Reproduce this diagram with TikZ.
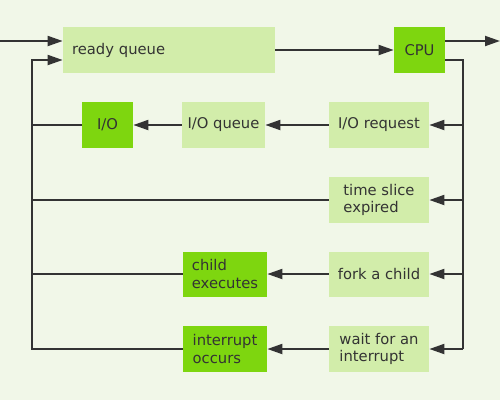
\documentclass[tikz,border=0pt]{standalone}
\usepackage{fontspec}
\setmainfont{DejaVu Sans}
\usetikzlibrary{arrows.meta}
\definecolor{bg}{HTML}{F1F7E8}
\definecolor{pale}{HTML}{D2EDAA}
\definecolor{vivid}{HTML}{7ED60F}
\definecolor{ink}{HTML}{333333}
\tikzset{
    box/.style = {fill=pale, inner sep=0pt, text=ink, align=left, minimum height=0.92cm,
                  font=\fontsize{8.4}{9.8}\selectfont},
    hot/.style = {box, fill=vivid},
    wire/.style = {draw=ink, line width=1.1pt},
    flow/.style = {wire, -{Triangle[length=0.3cm, width=0.2cm]}}
}
\begin{document}
\begin{tikzpicture}[x=0.02cm, y=-0.02cm]
    \fill[bg] (0,0) rectangle (500,400);
    \useasboundingbox (0,0) rectangle (500,400);
    % boxes
    \node[box, minimum width=4.24cm, text width=3.88cm, inner xsep=0.18cm] (ready) at (169,50) {ready queue};
    \node[hot, minimum width=1.02cm] (cpu) at (419.5,50) {CPU};
    \node[hot, minimum width=1.02cm] (io) at (107.5,125) {I/O};
    \node[box, minimum width=1.66cm] (ioq) at (223.5,125) {I/O queue};
    \node[box, minimum width=2cm] (ioreq) at (379,125) {I/O request};
    \node[box, minimum width=2cm] (slice) at (379,200) {time slice\\expired};
    \node[box, minimum width=2cm, minimum height=0.9cm] (fork) at (379,274) {fork a child};
    \node[hot, minimum width=1.68cm, minimum height=0.9cm] (child) at (225,274) {child\\executes};
    \node[box, minimum width=2cm] (wait) at (379,349) {wait for an\\interrupt};
    \node[hot, minimum width=1.68cm] (intr) at (225,349) {interrupt\\occurs};
    % rails
    \coordinate (in) at (0,41);
    \coordinate (out) at (500,41);
    \coordinate (r) at (463,60);
    \coordinate (l) at (32,60);
    \draw[flow] (in) -- (ready.west |- in);
    \draw[flow] (ready) -- (cpu);
    \draw[flow] (cpu.east |- out) -- (out);
    \draw[wire] (cpu.east |- r) -- (r) -- (r |- wait);
    \draw[flow] (r |- ioreq) -- (ioreq);
    \draw[flow] (r |- slice) -- (slice);
    \draw[flow] (r |- fork) -- (fork);
    \draw[flow] (r |- wait) -- (wait);
    \draw[flow] (ioreq) -- (ioq);
    \draw[flow] (ioq) -- (io);
    \draw[flow] (fork) -- (child);
    \draw[flow] (wait) -- (intr);
    \draw[wire] (io) -- (l |- io);
    \draw[wire] (slice) -- (l |- slice);
    \draw[wire] (child) -- (l |- child);
    \draw[flow] (intr) -| (l) -- (ready.west |- l);
\end{tikzpicture}
\end{document}
